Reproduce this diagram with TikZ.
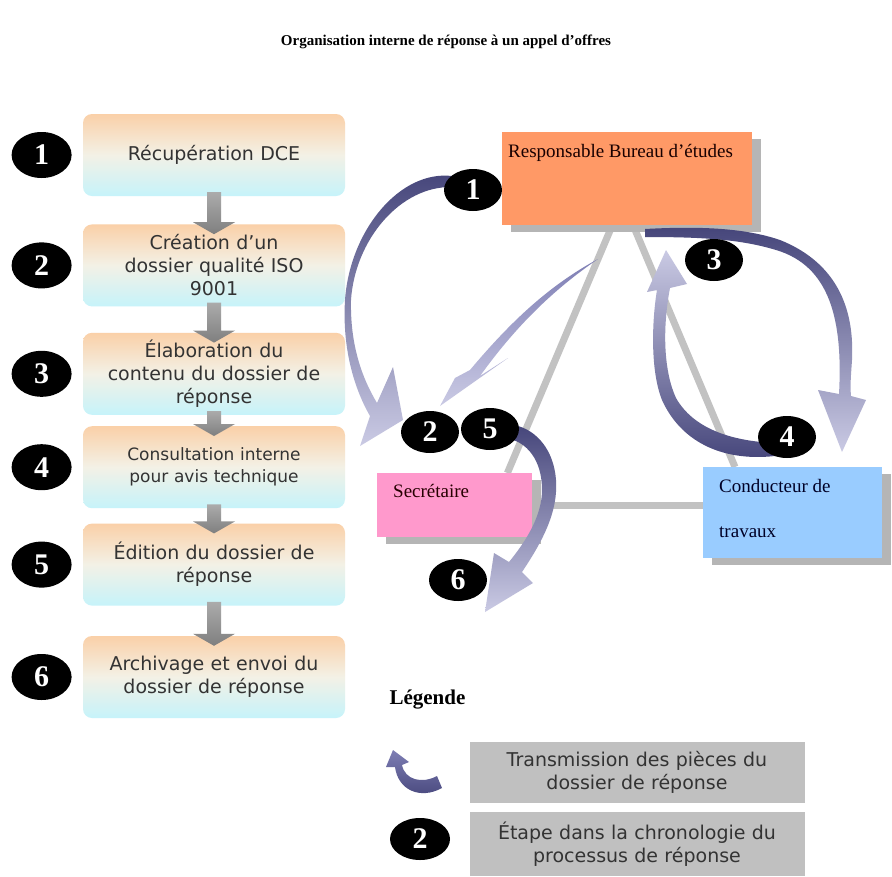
\documentclass[tikz,border=0pt]{standalone}
\usepackage{fontspec}
\setmainfont{Liberation Serif}
\newfontfamily\verdfont{DejaVu Sans}
\usepackage{tikz}
\usetikzlibrary{arrows.meta,positioning,shapes.geometric,calc,backgrounds,shadows}
\definecolor{stagetop}{HTML}{FAD0A8}
\definecolor{stagemid}{HTML}{F3F1E6}
\definecolor{stagebot}{HTML}{C6F3FA}
\definecolor{respfill}{HTML}{FF9966}
\definecolor{secfill}{HTML}{FF99CC}
\definecolor{condfill}{HTML}{99CCFF}
\definecolor{shadowgray}{HTML}{B5B5B5}
\definecolor{linkgray}{HTML}{C2C2C2}
\definecolor{legendgray}{HTML}{C0C0C0}
\definecolor{flowdark}{HTML}{45457A}
\definecolor{flowmid}{HTML}{7E7EB4}
\definecolor{flowpale}{HTML}{CACAE4}
\definecolor{arrowtop}{HTML}{ABABAB}
\definecolor{arrowbot}{HTML}{7F7F7F}
\tikzset{
  flow/stage/.style={rounded corners=9pt, top color=stagetop, bottom color=stagebot, middle color=stagemid,
    text width=250pt, minimum height=82pt, inner xsep=6pt, align=center, text=black!80,
    font=\verdfont\fontsize{19}{23}\selectfont},
  flow/num/.style={ellipse, fill=black, text=white, inner sep=0pt, minimum width=58pt, minimum height=42pt,
    font=\bfseries\fontsize{30}{30}\selectfont},
  flow/bignum/.style={flow/num, minimum width=60pt, minimum height=46pt},
  org/role/.style={anchor=north west, inner sep=0pt, font=\fontsize{19}{23}\selectfont,
    general shadow={fill=shadowgray, shadow xshift=9pt, shadow yshift=-7pt}},
  org/link/.style={draw=linkgray, line width=7pt},
  org/sweep/.style={top color=flowdark, bottom color=flowpale},
  org/sweepup/.style={top color=flowpale, bottom color=flowdark},
  leg/box/.style={fill=legendgray, minimum width=335pt, text width=320pt, align=center, inner sep=0pt,
    text=black!80, font=\verdfont\fontsize{19}{23}\selectfont},
  leg/title/.style={font=\bfseries\fontsize{21}{21}\selectfont}
}

\begin{document}
\begin{tikzpicture}[x=1pt, y=-1pt]
  \useasboundingbox (0,0) rectangle (892,876);

  \node[font=\bfseries\fontsize{15}{15}\selectfont] (title) at (446,42) {Organisation interne de réponse à un appel d’offres};

  % etapes
  \node[flow/stage] (stage1) at (214,155) {Récupération DCE};
  \node[flow/stage, below=28pt of stage1] (stage2) {Création d’un\\dossier qualité ISO\\9001};
  \node[flow/stage, below=26pt of stage2] (stage3) {Élaboration du\\contenu du dossier de\\réponse};
  \node[flow/stage, below=11pt of stage3, font=\verdfont\fontsize{17}{22}\selectfont] (stage4) {Consultation interne\\pour avis technique};
  \node[flow/stage, below=15pt of stage4] (stage5) {Édition du dossier de\\réponse};
  \node[flow/stage, below=30pt of stage5] (stage6) {Archivage et envoi du\\dossier de réponse};

  \foreach \i in {1,...,6}
    \node[flow/bignum, left=11pt of stage\i] (num\i) {\i};

  \foreach \a/\b in {1/2,2/3,3/4,4/5,5/6}
    \shade[top color=arrowtop, bottom color=arrowbot]
      ($(stage\a.south)+(-7,-4)$) -- ($(stage\b.north)+(-7,-2)$) -- ($(stage\b.north)+(-21,-2)$)
      -- ($(stage\b.north)+(0,10)$) -- ($(stage\b.north)+(21,-2)$) -- ($(stage\b.north)+(7,-2)$)
      -- ($(stage\a.south)+(7,-4)$) -- cycle;

  % acteurs
  \node[org/role, fill=respfill, text=black!90!red] (resp) at (502,132)
    {\parbox[c][93pt][t]{250pt}{\vspace*{12pt}\hspace*{6pt}Responsable Bureau d’études}};
  \node[org/role, fill=secfill, text=black!85!red] (secr) at (377,473)
    {\parbox[c][64pt][t]{155pt}{\vspace*{11pt}\hspace*{16pt}Secrétaire}};
  \node[org/role, fill=condfill, text=black!85!blue] (cond) at (703,467)
    {\parbox[c][91pt][t]{179pt}{\vspace*{12pt}\leftskip=16pt\relax Conducteur de\\[22pt]travaux\par}};

  \begin{scope}[on background layer]
    \fill[white] (0,0) rectangle (892,876);
    \draw[org/link] ($(resp.south)+(-15,0)$) -- ($(secr.north east)+(-25,0)$);
    \draw[org/link] ($(resp.south)+(6,0)$) -- ($(cond.north west)+(32,0)$);
    \draw[org/link] (secr.east) -- (secr.east -| cond.west);
  \end{scope}

  % transmissions
  \shade[org/sweep] (452,176) .. controls (400,170) and (350,230) .. (345,300)
    .. controls (342,350) and (355,390) .. (370,416)
    -- (360,446) -- (403,420) -- (393,367) -- (377,403)
    .. controls (362,378) and (350,345) .. (351,300)
    .. controls (355,240) and (400,186) .. (452,187) -- cycle;
  \shade[top color=flowmid, bottom color=flowpale] (598,259) .. controls (550,285) and (512,320) .. (470,370)
    -- (455,378) -- (440,406) -- (508,358) -- (480,376)
    .. controls (516,326) and (553,290) .. (598,259) -- cycle;
  \shade[org/sweep] (645,229) .. controls (700,226) and (745,228) .. (780,240)
    .. controls (830,260) and (855,300) .. (852,360)
    .. controls (851,375) and (850,385) .. (851,396)
    -- (866,400) -- (842,452) -- (818,390) -- (839,394)
    .. controls (843,320) and (830,266) .. (776,250)
    .. controls (740,239) and (700,237) .. (645,237) -- cycle;
  \shade[org/sweepup] (775,456) .. controls (720,462) and (680,440) .. (662,400)
    .. controls (650,370) and (652,320) .. (657,290)
    -- (647,292) -- (666,250) -- (687,284) -- (670,288)
    .. controls (662,330) and (664,372) .. (676,398)
    .. controls (693,428) and (730,441) .. (775,443) -- cycle;
  \shade[org/sweep] (505,424) .. controls (545,425) and (568,470) .. (550,520)
    .. controls (543,540) and (530,560) .. (522,572)
    -- (533,583) -- (485,612) -- (494,553) -- (509,562)
    .. controls (527,540) and (542,515) .. (542,490)
    .. controls (542,460) and (527,441) .. (505,438) -- cycle;

  \node[flow/num] (r1) at (473,190) {1};
  \node[flow/num] (r2) at (430,432) {2};
  \node[flow/num] (r5) at (490,429) {5};
  \node[flow/num] (r3) at (714,260) {3};
  \node[flow/num] (r4) at (787,437) {4};
  \node[flow/num] (r6) at (458,580) {6};

  % legende
  \node[leg/title, anchor=west] (legtitle) at (386,700) {Légende};
  \node[leg/box, minimum height=61pt] (leg1) at (637,772) {Transmission des pièces du\\dossier de réponse};
  \node[leg/box, minimum height=64pt, below=9pt of leg1] (leg2) {Étape dans la chronologie du\\processus de réponse};
  \shade[top color=flowmid, bottom color=flowdark] (442,788) .. controls (420,800) and (398,790) .. (395,767)
    -- (386,767) -- (393,750) -- (409,762) -- (402,765)
    .. controls (405,780) and (422,784) .. (437,776) -- cycle;
  \node[flow/num, minimum width=60pt] (legnum) at (420,839) {2};
\end{tikzpicture}
\end{document}
